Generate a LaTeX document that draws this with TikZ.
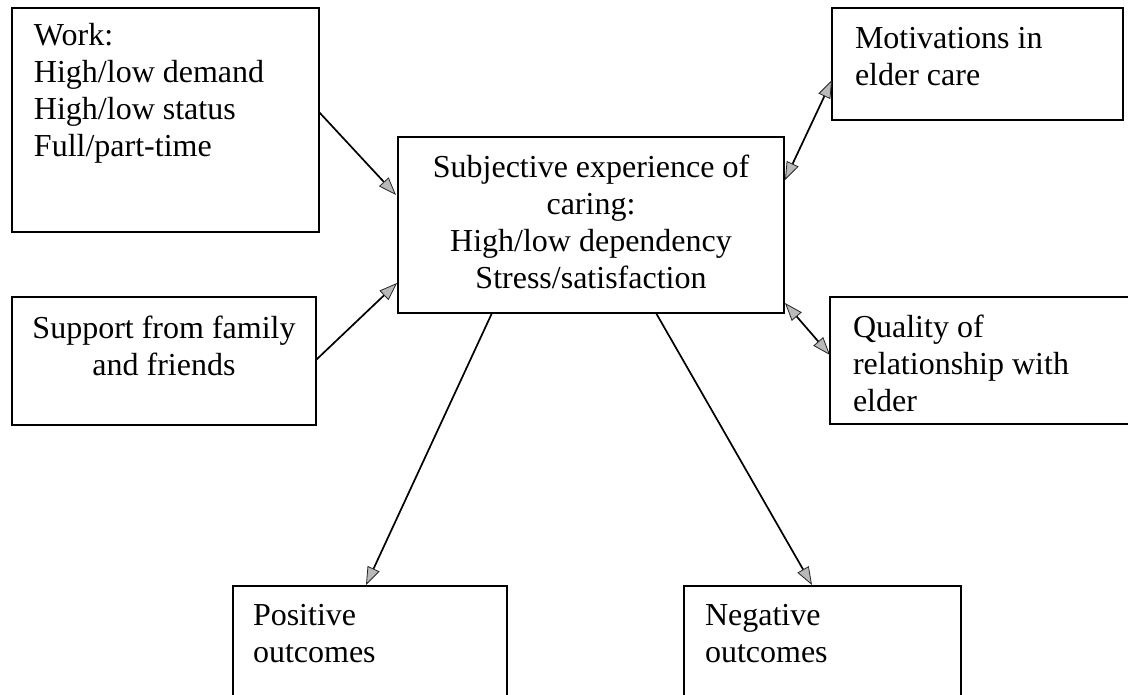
\documentclass[tikz,border=0pt]{standalone}
\usepackage{fontspec}
\setmainfont{Liberation Serif}
\usetikzlibrary{arrows.meta}
\tikzset{
  x=1pt, y=1pt,
  box/.style={draw, line width=2pt, inner sep=0pt, outer sep=0pt, anchor=north west},
  txt/.style={inner sep=0pt, outer sep=0pt, font=\fontsize{32}{37}\selectfont},
  tip/.tip={Triangle[length=18pt,width=13pt,fill=gray!55,color=black!85,line width=0.8pt]},
  arr/.style={line width=1.7pt, -tip},
  biarr/.style={line width=1.7pt, tip-tip},
}
\begin{document}
\begin{tikzpicture}
\clip (0,0) rectangle (1128,-694);
\fill[white] (0,0) rectangle (1128,-694);

% boxes
\node[box, minimum width=307pt, minimum height=224pt] (work) at (12,-8) {};
\node[box, minimum width=386pt, minimum height=176pt] (center) at (398,-137) {};
\node[box, minimum width=291pt, minimum height=112pt] (motiv) at (832,-8) {};
\node[box, minimum width=304pt, minimum height=128pt] (support) at (12,-297) {};
\node[box, minimum width=330pt, minimum height=127pt] (quality) at (830,-297) {};
\node[box, minimum width=274pt, minimum height=140pt] (positive) at (233,-586) {};
\node[box, minimum width=277pt, minimum height=140pt] (negative) at (684,-586) {};

% texts
\node[txt, anchor=base west] (worktext) at ([shift={(22,-37)}]work.north west)
  {\begin{tabular}[t]{@{}l@{}}Work:\\High/low demand\\High/low status\\Full/part-time\end{tabular}};
\node[txt, anchor=base] (centertext) at ([yshift=-40]center.north)
  {\begin{tabular}[t]{@{}c@{}}Subjective experience of\\caring:\\High/low dependency\\Stress/satisfaction\end{tabular}};
\node[txt, anchor=base west] (motivtext) at ([shift={(23,-40)}]motiv.north west)
  {\begin{tabular}[t]{@{}l@{}}Motivations in\\elder care\end{tabular}};
\node[txt, anchor=base] (supporttext) at ([yshift=-41]support.north)
  {\begin{tabular}[t]{@{}c@{}}Support from family\\and friends\end{tabular}};
\node[txt, anchor=base west] (qualitytext) at ([shift={(23,-40)}]quality.north west)
  {\begin{tabular}[t]{@{}l@{}}Quality of\\relationship with\\elder\end{tabular}};
\node[txt, anchor=base west] (positivetext) at ([shift={(20,-39)}]positive.north west)
  {\begin{tabular}[t]{@{}l@{}}Positive\\outcomes\end{tabular}};
\node[txt, anchor=base west] (negativetext) at ([shift={(21,-39)}]negative.north west)
  {\begin{tabular}[t]{@{}l@{}}Negative\\outcomes\end{tabular}};

% connectors
\draw[arr] ([yshift=-104]work.north east) -- ([shift={(-2,-58)}]center.north west);
\draw[arr] ([yshift=-63]support.north east) -- ([shift={(-1,30)}]center.south west);
\draw[biarr] ([shift={(1,-43)}]center.north east) -- ([yshift=40]motiv.south west);
\draw[biarr] ([shift={(1,10)}]center.south east) -- ([yshift=-58]quality.north west);
\draw[arr] ([xshift=94]center.south west) -- ([shift={(133,1)}]positive.north west);
\draw[arr] ([xshift=258]center.south west) -- ([shift={(128,1)}]negative.north west);
\end{tikzpicture}
\end{document}
